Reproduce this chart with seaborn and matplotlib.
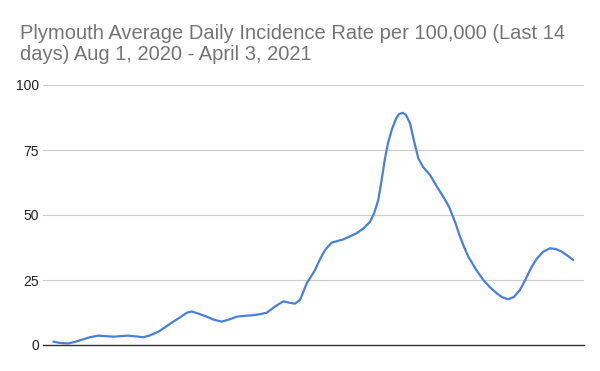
import numpy as np
import pandas as pd
import matplotlib
matplotlib.use("Agg")
import matplotlib.pyplot as plt
import seaborn as sns

# Readings taken off the reference curve: horizontal pixel position -> value
pixel_x = [53.3, 60, 68.3, 75, 83.3, 90, 98.3, 106, 113.3, 120, 128.3, 136, 143.3, 150,
           158.3, 165, 173.3, 180, 186.7, 191.7, 199, 206.7, 214, 221.7, 229, 236.7, 244,
           251.7, 259, 266.7, 275, 283.3, 289, 295, 300, 306.7, 315, 320, 325, 331.7,
           343.3, 356.7, 364, 370, 374, 378.3, 381, 385, 388, 391.7, 396, 399, 402.7,
           406, 410, 414, 418.3, 423, 430, 436, 443.3, 449, 455, 460, 464, 468.3, 476,
           483.3, 490, 496.7, 502, 508.3, 514, 520, 526, 531.7, 537, 543.3, 550, 556,
           561.7, 567, 573.3]
rate = [1.3, 0.8, 0.6, 1.2, 2.2, 3.0, 3.6, 3.4, 3.2, 3.4, 3.6, 3.3, 3.0, 3.7,
        5.1, 6.8, 9.0, 10.6, 12.4, 12.9, 12.0, 10.9, 9.7, 9.0, 9.8, 10.9, 11.2,
        11.4, 11.8, 12.4, 14.8, 16.8, 16.3, 15.9, 17.3, 23.7, 28.8, 33.0, 36.5, 39.4,
        40.6, 43.0, 45.0, 47.4, 50.5, 55.8, 62.0, 71.8, 77.6, 82.7, 87.0, 88.8, 89.3,
        88.5, 85.3, 78.5, 71.8, 68.5, 65.4, 61.5, 57.0, 53.2, 47.4, 41.7, 37.8, 34.0, 29.0,
        25.0, 22.2, 19.9, 18.4, 17.6, 18.5, 21.2, 25.6, 30.1, 33.3, 35.9, 37.2, 36.9,
        35.9, 34.5, 32.7]
y_ticks = [0, 25, 50, 75, 100]
title = "Plymouth Average Daily Incidence Rate per 100,000 (Last 14\ndays) Aug 1, 2020 - April 3, 2021"

# convert pixel positions to days since Aug 1, 2020 (Aug 1 -> Apr 3 = 245 days)
days = (np.array(pixel_x) - 53.0) / 520.0 * 245.0
df = pd.DataFrame({"day": days, "rate": rate})

sns.set_theme(style="white")
plt.rcParams["font.family"] = ["Liberation Sans", "DejaVu Sans"]

fig = plt.figure(figsize=(6.0, 3.71), dpi=100)
ax = fig.add_axes([43/600, 1 - 345/371, (584 - 43)/600, (345 - 85)/371])

sns.lineplot(data=df, x="day", y="rate", ax=ax, color="#4a7fdc", linewidth=1.6)

ax.set_xlim(-10/520*245, 245 + 11/520*245)
ax.set_ylim(0, 100)
ax.set_yticks(y_ticks)
ax.set_yticklabels([str(t) for t in y_ticks], fontsize=10, color="#222222")
ax.set_xticks([])
ax.set_xlabel("")
ax.set_ylabel("")
ax.grid(axis="y", color="#cccccc", linewidth=0.8)
ax.set_axisbelow(True)
for s in ["top", "right", "left"]:
    ax.spines[s].set_visible(False)
ax.spines["bottom"].set_color("#333333")
ax.spines["bottom"].set_linewidth(1.0)
ax.tick_params(axis="y", length=0, pad=3)

fig.text(20/600, 1 - 24/371, title, fontsize=14.5, color="#757575",
         ha="left", va="top", linespacing=1.12)

fig.savefig("out.png", dpi=100, facecolor="white")
